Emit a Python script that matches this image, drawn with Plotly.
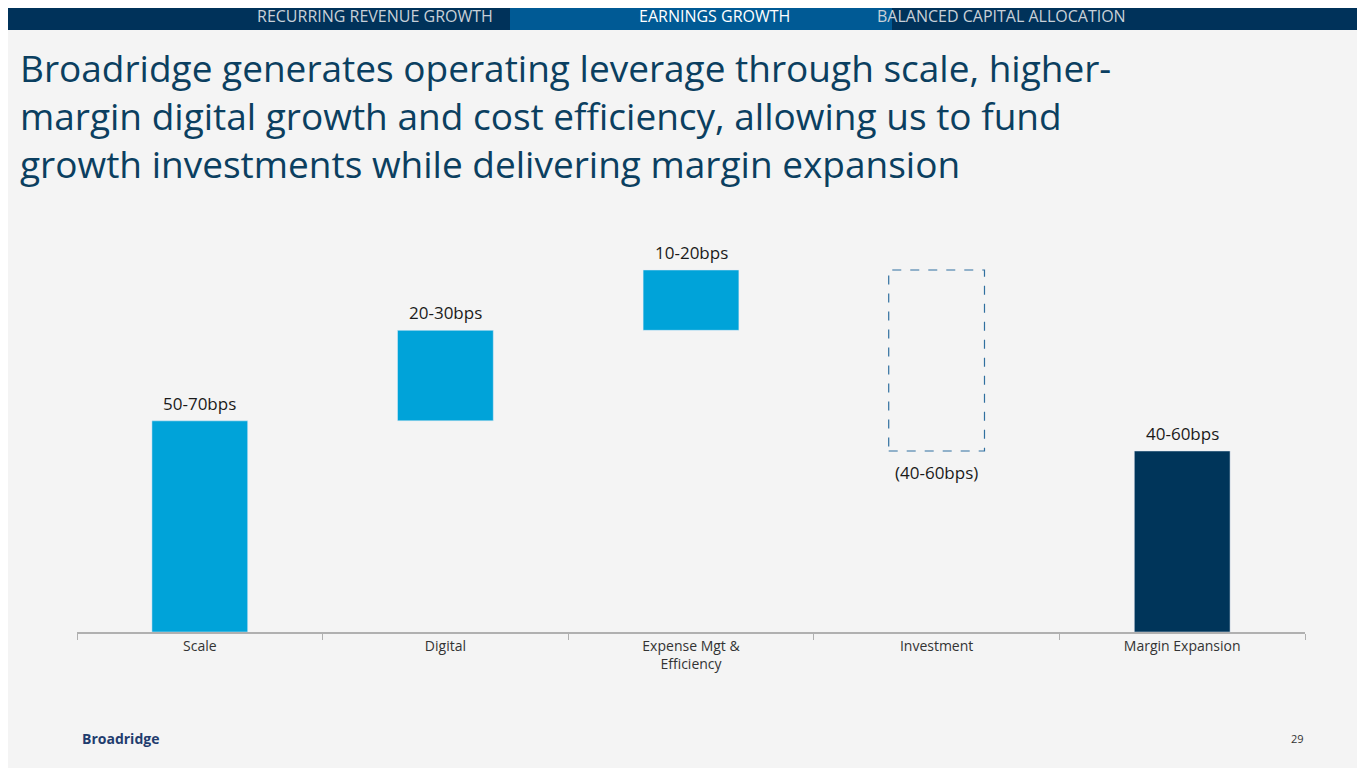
import plotly.graph_objects as go

categories = ["Scale", "Digital", "Expense Mgt &<br>Efficiency", "Investment", "Margin Expansion"]
changes = [70, 30, 20, -60, 60]
labels = ["50-70bps", "20-30bps", "10-20bps", "(40-60bps)", "40-60bps"]
kinds = ["up", "up", "up", "down", "total"]

LIGHT = "#00a3d9"
DARK = "#00355a"

# running waterfall bases
bases, tops = [], []
level = 0
for v, k in zip(changes, kinds):
    if k == "total":
        bases.append(0)
        tops.append(v)
        level = v
    elif v >= 0:
        bases.append(level)
        tops.append(level + v)
        level += v
    else:
        bases.append(level + v)
        tops.append(level)
        level += v

fig = go.Figure()
solid = [i for i, k in enumerate(kinds) if k != "down"]
fig.add_trace(go.Bar(
    x=[categories[i] for i in solid],
    y=[tops[i] - bases[i] for i in solid],
    base=[bases[i] for i in solid],
    marker_color=[DARK if kinds[i] == "total" else LIGHT for i in solid],
    width=0.39, showlegend=False, hoverinfo="skip",
))
# dashed outline for the investment step
for i, k in enumerate(kinds):
    if k == "down":
        fig.add_shape(type="rect", xref="x", yref="y",
                      x0=i - 0.195, x1=i + 0.195, y0=bases[i], y1=tops[i],
                      line=dict(color="#2f6f9f", width=1.2, dash="dash"))

# value labels
for i, (lab, k) in enumerate(zip(labels, kinds)):
    if k == "down":
        fig.add_annotation(x=i, y=bases[i], text=lab, yanchor="top",
                           yshift=-8, showarrow=False,
                           font=dict(size=17, color="#1a1a1a"))
    else:
        fig.add_annotation(x=i, y=tops[i], text=lab, yanchor="bottom",
                           yshift=4, showarrow=False,
                           font=dict(size=17, color="#1a1a1a"))

# page is shown with an 8px body margin, so layout coords are shifted up by 8
OFF = 8
W, H, L, R = 1365, 768, 77 - OFF, 60 + OFF
T, B = 200 - OFF, 136 + OFF
pw, ph = W - L - R, H - T - B
def px(x): return (x - OFF - L) / pw
def py(y): return (H - B - (y - OFF)) / ph

fig.add_shape(type="rect", xref="paper", yref="paper", x0=px(-10), x1=px(W + 10),
              y0=py(30), y1=py(-10), fillcolor="#00325a", line_width=0)
fig.add_shape(type="rect", xref="paper", yref="paper", x0=px(510), x1=px(892),
              y0=py(30), y1=py(-10), fillcolor="#005a95", line_width=0)
for txt, cx, col in [("RECURRING REVENUE GROWTH", 255, "#c8d0d8"),
                     ("EARNINGS GROWTH", 714, "#ffffff"),
                     ("BALANCED CAPITAL ALLOCATION", 1128, "#c8d0d8")]:
    fig.add_annotation(xref="paper", yref="paper", x=px(cx), y=py(16), text=txt,
                       yanchor="middle", showarrow=False, font=dict(size=16, color=col))

fig.add_annotation(xref="paper", yref="paper", x=px(18), y=py(40), xanchor="left",
                   yanchor="top", align="left", showarrow=False,
                   text="Broadridge generates operating leverage through scale, higher-<br>"
                        "margin digital growth and cost efficiency, allowing us to fund<br>"
                        "growth investments while delivering margin expansion",
                   font=dict(size=37, color="#0b3f60"))
fig.add_annotation(xref="paper", yref="paper", x=px(80), y=py(738), xanchor="left",
                   yanchor="middle", showarrow=False, text="<b>Broadridge</b>",
                   font=dict(size=14, color="#1f3c6e"))
fig.add_annotation(xref="paper", yref="paper", x=px(1306), y=py(738), xanchor="right",
                   yanchor="middle", showarrow=False, text="29",
                   font=dict(size=11, color="#333"))

fig.update_xaxes(showline=True, linecolor="#b0b0b0", linewidth=1.5,
                 ticks="outside", tickson="boundaries", ticklen=6, tickcolor="#b0b0b0",
                 tickfont=dict(size=14, color="#333"), range=[-0.5, 4.5],
                 categoryorder="array", categoryarray=categories,
                 tickmode="array", tickvals=list(range(len(categories))), ticktext=categories)
fig.update_yaxes(visible=False, range=[0, 143.2])
fig.update_layout(
    width=W, height=H, margin=dict(l=L, r=R, t=T, b=B),
    paper_bgcolor="#f4f4f4", plot_bgcolor="#f4f4f4",
    font=dict(family="Open Sans"), bargap=0.61,
)

fig.write_html("out.html")
